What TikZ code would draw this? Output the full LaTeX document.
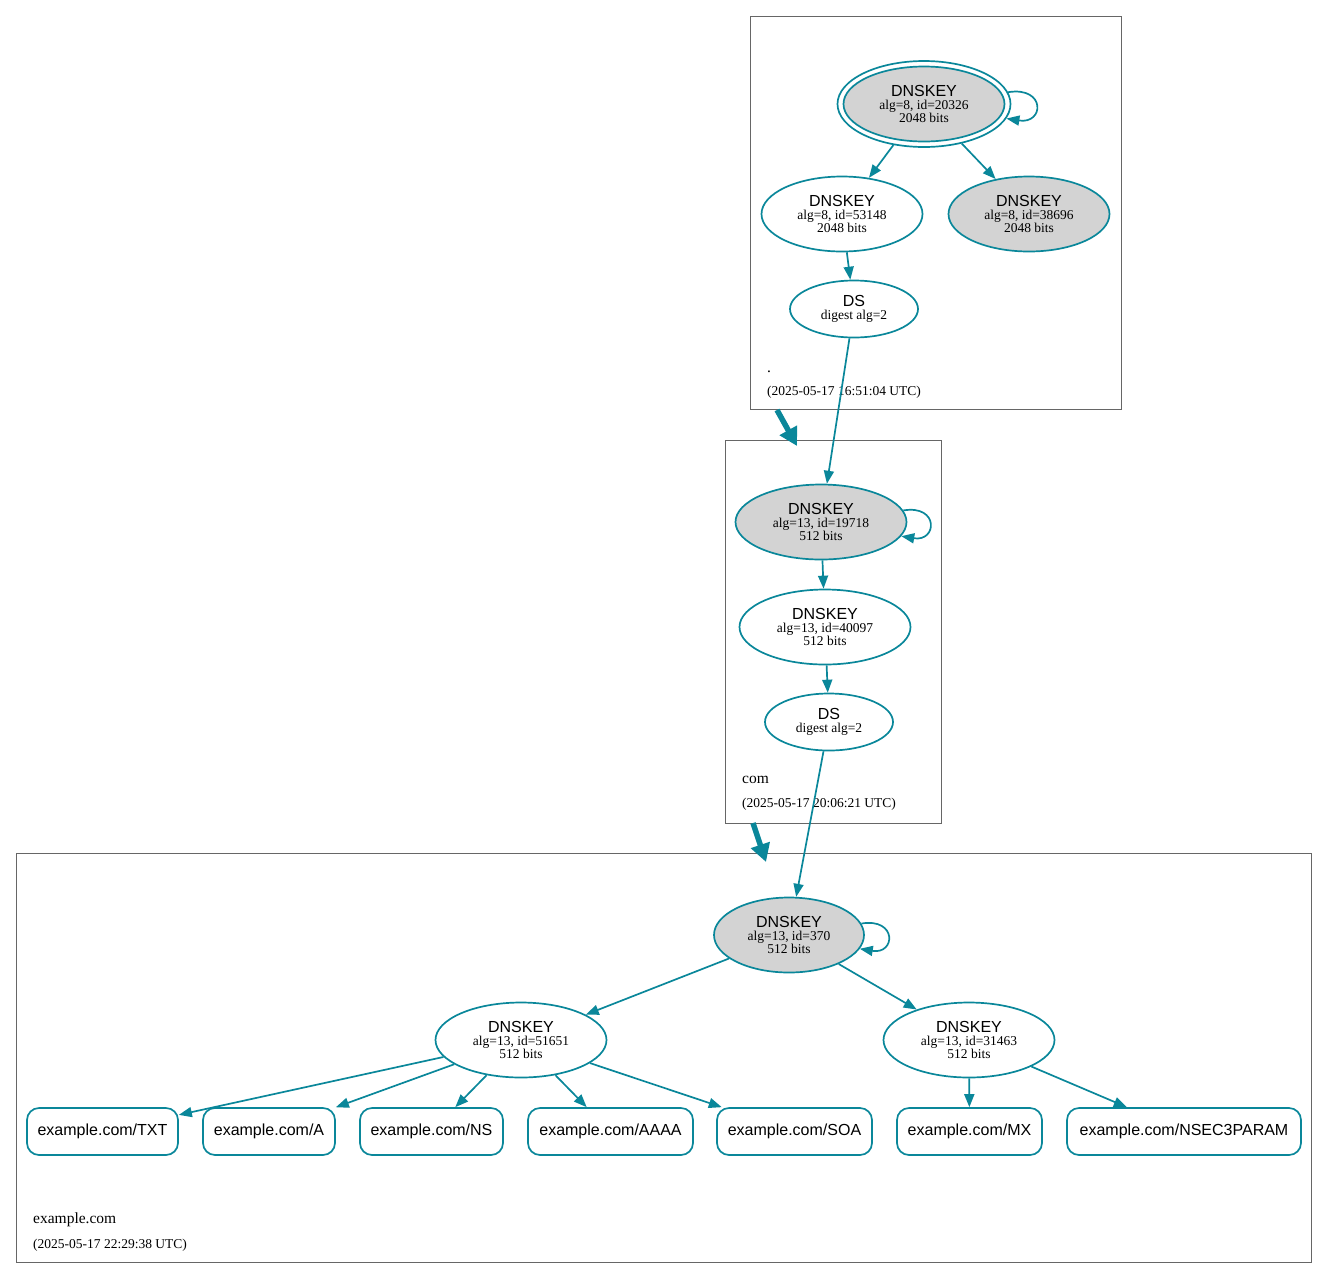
\documentclass[tikz,border=0pt]{standalone}
\usepackage{fontspec}
\setmainfont{Liberation Serif}
\setsansfont{Liberation Sans}
\usetikzlibrary{shapes.geometric, arrows.meta}
\definecolor{secure}{HTML}{0A879A}
\definecolor{keygray}{HTML}{D3D3D3}
\definecolor{zoneline}{HTML}{666666}
\tikzset{
  key/.style={ellipse, draw=secure, line width=1.7pt, inner sep=0pt, align=center,
    font=\fontsize{13.5}{13}\selectfont, minimum width=161pt, minimum height=75pt},
  ksk/.style={key, fill=keygray},
  dsnode/.style={key, minimum width=128pt, minimum height=57pt},
  rrset/.style={rectangle, rounded corners=12pt, draw=secure, line width=1.7pt,
    minimum height=47pt, inner sep=0pt, font=\sffamily\fontsize{16}{16}\selectfont},
  edge/.style={draw=secure, line width=1.7pt, -{Triangle[length=13pt,width=10pt]}},
  deleg/.style={draw=secure, line width=5.5pt, -{Triangle[length=18pt,width=19pt]}},
  zone/.style={draw=zoneline, line width=1pt},
  zonename/.style={anchor=base west, inner sep=0pt, font=\fontsize{15.5}{15.5}\selectfont},
  zonedate/.style={anchor=base west, inner sep=0pt, font=\fontsize{13.5}{13.5}\selectfont}
}
\newcommand{\kname}[1]{{\sffamily\fontsize{16}{16}\selectfont #1}}

\begin{document}
\begin{tikzpicture}[x=1pt, y=-1pt]
		\useasboundingbox (0,0) rectangle (1328,1278);
		% zone .
		\draw[zone] (750,16) rectangle (1121,409);
		\node[key, minimum width=173pt, minimum height=86pt] (k20326) at (924,104) {};
		\node[ksk] (k20326in) at (924,104) {\kname{DNSKEY}\\alg=8, id=20326\\2048 bits};
		\node[key] (k53148) at (842,214) {\kname{DNSKEY}\\alg=8, id=53148\\2048 bits};
		\node[ksk] (k38696) at (1029,214) {\kname{DNSKEY}\\alg=8, id=38696\\2048 bits};
		\node[dsnode] (dsroot) at (854,309) {\kname{DS}\\digest alg=2};
		\node[zonename] (rootname) at (767,372) {.};
		\node[zonedate] (rootdate) at (767,395) {(2025-05-17 16:51:04 UTC)};
		
		% zone com
		\draw[zone] (725,440) rectangle (941,823);
		\node[ksk, minimum width=171pt] (k19718) at (821,522) {\kname{DNSKEY}\\alg=13, id=19718\\512 bits};
		\node[key, minimum width=171pt] (k40097) at (825,627) {\kname{DNSKEY}\\alg=13, id=40097\\512 bits};
		\node[dsnode] (dscom) at (829,722) {\kname{DS}\\digest alg=2};
		\node[zonename] (comname) at (742,783) {com};
		\node[zonedate] (comdate) at (742,807) {(2025-05-17 20:06:21 UTC)};
		
		% zone example.com
		\draw[zone] (16,853) rectangle (1311,1262);
		\node[ksk, minimum width=150pt] (k370) at (789,935) {\kname{DNSKEY}\\alg=13, id=370\\512 bits};
		\node[key, minimum width=171pt] (k51651) at (521,1040) {\kname{DNSKEY}\\alg=13, id=51651\\512 bits};
		\node[key, minimum width=171pt] (k31463) at (969,1040) {\kname{DNSKEY}\\alg=13, id=31463\\512 bits};
		\node[rrset, minimum width=151pt] (txt) at (102.5,1131.5) {example.com/TXT};
		\node[rrset, minimum width=132pt] (a) at (269,1131.5) {example.com/A};
		\node[rrset, minimum width=143pt] (ns) at (431.5,1131.5) {example.com/NS};
		\node[rrset, minimum width=165pt] (aaaa) at (610.5,1131.5) {example.com/AAAA};
		\node[rrset, minimum width=155pt] (soa) at (794.5,1131.5) {example.com/SOA};
		\node[rrset, minimum width=145pt] (mx) at (969.5,1131.5) {example.com/MX};
		\node[rrset, minimum width=234pt] (nsec3param) at (1184,1131.5) {example.com/NSEC3PARAM};
		\node[zonename] (exname) at (33,1223) {example.com};
		\node[zonedate] (exdate) at (33,1248) {(2025-05-17 22:29:38 UTC)};
		
		% delegations
		\coordinate (rootout) at (777,410);
		\coordinate (comin) at (797,446);
		\coordinate (comout) at (753,823);
		\coordinate (exin) at (766,862);
		\draw[deleg] (rootout) -- (comin);
		\draw[deleg] (comout) -- (exin);
		
		% signatures and digests
		\draw[edge] (k20326.8) .. controls +(38,-6) and +(38,6) .. (k20326.-10);
		\draw[edge] (k20326) -- (k53148);
		\draw[edge] (k20326) -- (k38696);
		\draw[edge] (k53148) -- (dsroot);
		\draw[edge] (dsroot) -- (k19718);
		\draw[edge] (k19718.8) .. controls +(36,-6) and +(36,6) .. (k19718.-10);
		\draw[edge] (k19718) -- (k40097);
		\draw[edge] (k40097) -- (dscom);
		\draw[edge] (dscom) -- (k370);
		\draw[edge] (k370.9) .. controls +(36,-6) and +(36,6) .. (k370.-11);
		\draw[edge] (k370) -- (k51651);
		\draw[edge] (k370) -- (k31463);
		\draw[edge] (k51651) -- (txt);
		\draw[edge] (k51651) -- (a);
		\draw[edge] (k51651) -- (ns);
		\draw[edge] (k51651) -- (aaaa);
		\draw[edge] (k51651) -- (soa);
		\draw[edge] (k31463) -- (mx);
		\draw[edge] (k31463) -- (nsec3param);
	\end{tikzpicture}
\end{document}
